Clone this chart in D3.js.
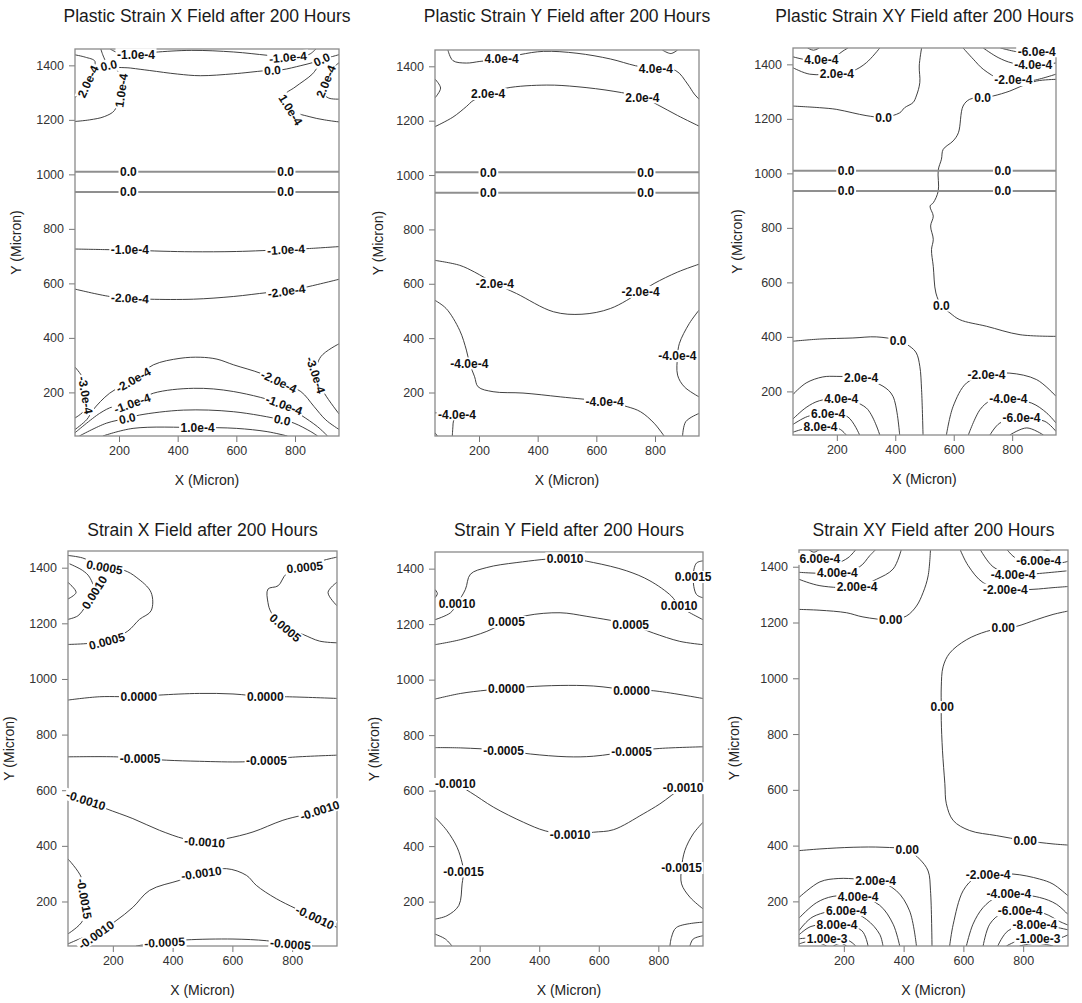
<!DOCTYPE html>
<html>
<head>
<meta charset="utf-8">
<script src="https://cdn.jsdelivr.net/npm/d3@7"></script>
<style>
body { margin: 0; background: #fff; }
svg { display: block; font-family: "Liberation Sans", Arial, sans-serif; }
</style>
</head>
<body>
<svg id="chart" width="1082" height="1003"></svg>
<script>
(function () {
    "use strict";

    // axes, shared by all six fields (micron)
    var xDomain = [50, 950];
    var yDomain = [40, 1460];
    var xTicks = [200, 400, 600, 800];
    var yTicks = [200, 400, 600, 800, 1000, 1200, 1400];
    var xTitle = "X (Micron)";
    var yTitle = "Y (Micron)";

    var titles = [
        "Plastic Strain X Field after 200 Hours",
        "Plastic Strain Y Field after 200 Hours",
        "Plastic Strain XY Field after 200 Hours",
        "Strain X Field after 200 Hours",
        "Strain Y Field after 200 Hours",
        "Strain XY Field after 200 Hours"
    ];

    // the two flat 0.0 contours at the interface (top row)
    var interfaceY = [1010, 935];
    var interfaceLabelX = [232, 768];

    // ---- plastic strain X ----
    var plasticXLines = [
        [[48,1439],[85,1430],[118,1415],[110,1380],[94,1341],[75,1300],[48,1282]],
        [[138,1460],[148,1430],[165,1400],[240,1390],[305,1381],[400,1368],[477,1362],[591,1369],[694,1380],[723,1382],[757,1384],[820,1399],[860,1410],[891,1421],[953,1440]],
        [[170,1460],[195,1447],[258,1441],[320,1448],[448,1455],[591,1449],[705,1437],[776,1430],[848,1440],[871,1460]],
        [[48,1194],[100,1200],[150,1212],[185,1235],[205,1300],[212,1350],[195,1380]],
        [[953,1276],[915,1280],[895,1300],[905,1341],[925,1385],[953,1412]],
        [[953,1192],[900,1200],[848,1212],[785,1237],[765,1290],[800,1320],[860,1369],[880,1400]],
        [[50,726],[150,724],[237,722],[350,718],[450,716],[600,717],[769,724],[850,728],[950,735]],
        [[50,579],[168,552],[237,546],[305,542],[454,542],[591,552],[705,566],[771,572],[837,586],[950,615]],
        [[48,62],[90,100],[111,135],[168,197],[248,246],[317,301],[408,325],[477,329],[534,322],[591,301],[683,270],[745,240],[820,203],[865,148],[905,99],[953,62]],
        [[48,50],[134,123],[180,148],[245,160],[317,197],[454,215],[591,203],[763,154],[820,117],[877,74],[911,40]],
        [[65,40],[157,87],[228,105],[271,117],[420,135],[591,129],[757,99],[797,87],[854,56],[877,40]],
        [[145,40],[248,68],[468,71],[600,68],[705,56],[774,40]],
        [[48,295],[77,252],[86,190],[82,135],[48,105]],
        [[953,380],[888,331],[871,264],[900,197],[953,117]]
    ];
    var plasticXLabels = [
        ["-1.0e-4", 258, 1441, 0], ["-1.0e-4", 776, 1430, -5],
        ["0.0", 165, 1400, -12], ["0.0", 723, 1382, -5], ["0.0", 891, 1421, -25],
        ["2.0e-4", 94, 1341, -65], ["1.0e-4", 208, 1308, -82],
        ["2.0e-4", 905, 1341, -68], ["1.0e-4", 785, 1237, 58],
        ["-1.0e-4", 237, 722, 0], ["-1.0e-4", 769, 724, -3],
        ["-2.0e-4", 237, 546, 3], ["-2.0e-4", 771, 572, -8],
        ["-2.0e-4", 248, 246, -30], ["-2.0e-4", 745, 240, 25],
        ["-1.0e-4", 245, 160, -20], ["-1.0e-4", 763, 154, 20],
        ["0.0", 228, 105, -12], ["0.0", 757, 99, 12],
        ["1.0e-4", 468, 71, 0],
        ["-3.0e-4", 86, 190, 80], ["-3.0e-4", 871, 264, 72]
    ];

    // ---- plastic strain Y ----
    var plasticYLines = [
        [[94,1460],[111,1421],[157,1412],[203,1418],[277,1427],[340,1443],[420,1455],[534,1448],[648,1427],[734,1402],[803,1390],[871,1384],[911,1335],[934,1298],[953,1276]],
        [[825,1460],[854,1447],[877,1460]],
        [[50,1353],[69,1320],[50,1284]],
        [[50,1178],[111,1213],[157,1252],[180,1274],[231,1298],[294,1320],[431,1331],[534,1325],[660,1308],[757,1286],[808,1259],[877,1219],[950,1180]],
        [[50,686],[134,668],[185,643],[254,601],[328,564],[454,497],[551,488],[648,509],[751,570],[797,601],[877,643],[950,672]],
        [[50,539],[88,509],[134,429],[157,356],[168,307],[185,258],[197,221],[248,203],[350,198],[477,184],[628,166],[705,148],[751,129],[797,87],[831,40]],
        [[950,503],[917,454],[883,380],[877,334],[877,264],[900,221],[950,184]],
        [[950,123],[905,93],[894,40]],
        [[50,125],[125,120],[113,95],[111,74],[109,40]],
        [[50,52],[58,40]]
    ];
    var plasticYLabels = [
        ["4.0e-4", 277, 1427, 0], ["4.0e-4", 803, 1390, 0],
        ["2.0e-4", 231, 1298, 0], ["2.0e-4", 757, 1286, 0],
        ["-2.0e-4", 254, 601, 0], ["-2.0e-4", 751, 570, 0],
        ["-4.0e-4", 167, 307, 0], ["-4.0e-4", 628, 166, 0],
        ["-4.0e-4", 876, 334, 0], ["-4.0e-4", 125, 120, 0]
    ];

    // ---- plastic strain XY ----
    var plasticXYLines = [
        [[49,1247],[141,1241],[198,1235],[255,1222],[300,1212],[360,1206],[415,1222],[432,1241],[461,1260],[472,1284],[484,1333],[482,1394],[490,1460]],
        [[950,1345],[884,1339],[827,1318],[792,1302],[735,1284],[699,1278],[655,1272],[632,1247],[616,1149],[598,1119],[564,1088],[558,1052],[547,1012],[547,935],[530,892],[519,880],[530,843],[521,807],[530,758],[524,720],[530,659],[539,561],[558,515],[587,488],[621,463],[712,439],[827,408],[950,402]],
        [[49,384],[141,392],[255,396],[335,400],[410,387],[450,365],[472,341],[484,292],[490,206],[495,40]],
        [[49,188],[95,231],[152,253],[200,255],[283,249],[358,219],[392,182],[415,40]],
        [[49,98],[95,141],[141,166],[215,172],[301,139],[347,40]],
        [[49,78],[100,108],[170,120],[238,106],[278,40]],
        [[49,50],[100,66],[144,70],[209,62],[232,40]],
        [[575,40],[598,145],[644,231],[712,261],[792,267],[884,243],[950,182]],
        [[650,40],[690,133],[725,165],[787,172],[867,157],[918,121],[950,84]],
        [[724,40],[758,84],[832,102],[912,90],[950,53]],
        [[792,40],[850,66],[907,40]],
        [[49,1428],[90,1418],[147,1417],[192,1428],[221,1449],[238,1460]],
        [[100,1460],[120,1452],[140,1460]],
        [[49,1388],[107,1364],[200,1367],[255,1376],[301,1406],[347,1460]],
        [[632,1460],[667,1419],[701,1382],[760,1345],[804,1342],[861,1339],[950,1364]],
        [[701,1460],[752,1425],[800,1405],[872,1398],[950,1405]],
        [[760,1460],[790,1452],[820,1446],[884,1448],[950,1450]]
    ];
    var plasticXYLabels = [
        ["0.0", 360, 1206, 0], ["0.0", 699, 1278, 0], ["0.0", 558, 515, 0], ["0.0", 410, 387, 0],
        ["2.0e-4", 283, 249, 0], ["4.0e-4", 215, 172, 0], ["6.0e-4", 170, 120, 0], ["8.0e-4", 144, 70, 0],
        ["-2.0e-4", 712, 261, 0], ["-4.0e-4", 787, 172, 0], ["-6.0e-4", 832, 102, 0],
        ["4.0e-4", 147, 1417, 0], ["2.0e-4", 200, 1367, 0],
        ["-2.0e-4", 804, 1342, 0], ["-4.0e-4", 872, 1398, 0], ["-6.0e-4", 884, 1448, 0]
    ];

    // ---- strain X ----
    var strainXLines = [
        [[49,1444],[99,1435],[172,1402],[239,1390],[278,1366],[328,1311],[328,1245],[289,1214],[250,1172],[180,1136],[110,1127],[49,1124]],
        [[55,1414],[99,1390],[122,1366],[138,1311],[110,1263],[83,1227],[49,1214]],
        [[49,1348],[77,1311],[49,1287]],
        [[950,1438],[900,1425],[842,1402],[781,1378],[753,1335],[719,1323],[719,1275],[730,1239],[777,1184],[836,1160],[892,1136],[950,1130]],
        [[950,1348],[920,1311],[950,1263]],
        [[49,924],[155,936],[287,936],[356,942],[490,948],[602,946],[710,936],[781,936],[950,930]],
        [[49,720],[211,720],[291,714],[379,708],[490,704],[635,702],[714,708],[792,718],[950,726]],
        [[49,602],[110,564],[177,534],[267,498],[356,456],[440,425],[507,414],[580,426],[669,450],[769,492],[892,528],[950,564]],
        [[49,47],[100,70],[144,83],[211,131],[267,179],[323,240],[423,276],[496,302],[580,318],[647,294],[680,258],[747,210],[876,143],[950,107]],
        [[49,354],[94,288],[105,210],[99,131],[49,83]],
        [[278,40],[320,47],[373,55],[446,62],[602,65],[714,59],[794,47],[870,40]]
    ];
    var strainXLabels = [
        ["0.0005", 172, 1402, 10], ["0.0010", 138, 1311, -58], ["0.0005", 180, 1136, -15],
        ["0.0005", 842, 1402, -6], ["0.0005", 777, 1184, 40],
        ["0.0000", 287, 936, 0], ["0.0000", 710, 936, 0],
        ["-0.0005", 291, 714, 0], ["-0.0005", 714, 708, 0],
        ["-0.0010", 110, 564, 18], ["-0.0010", 507, 414, 4], ["-0.0010", 892, 528, -18],
        ["-0.0010", 144, 80, -35], ["-0.0010", 496, 302, -8], ["-0.0010", 876, 143, 25],
        ["-0.0015", 105, 210, 80],
        ["-0.0005", 373, 53, -3], ["-0.0005", 794, 47, 5]
    ];

    // ---- strain Y ----
    var strainYLines = [
        [[50,1216],[102,1241],[124,1274],[152,1325],[169,1380],[224,1404],[325,1422],[487,1437],[582,1422],[694,1392],[772,1356],[844,1301],[870,1265],[906,1241],[950,1216]],
        [[50,1325],[58,1310],[50,1295]],
        [[950,1428],[928,1420],[917,1370],[928,1307],[950,1295]],
        [[50,1126],[135,1144],[224,1174],[290,1208],[359,1231],[470,1241],[560,1228],[707,1198],[783,1168],[872,1138],[950,1126]],
        [[50,930],[135,950],[224,962],[290,967],[359,974],[470,979],[582,977],[710,962],[783,960],[950,932]],
        [[50,755],[135,754],[280,745],[370,732],[493,722],[582,724],[710,742],[805,752],[950,758]],
        [[50,630],[118,624],[169,594],[247,540],[347,486],[420,455],[504,441],[582,450],[649,459],[749,516],[805,552],[883,609],[950,624]],
        [[50,504],[90,456],[124,396],[141,340],[146,309],[141,264],[130,186],[90,149],[50,137]],
        [[950,486],[917,444],[889,384],[878,321],[878,264],[906,216],[950,174]],
        [[50,83],[85,65],[107,40]],
        [[950,126],[861,107],[844,71],[839,40]],
        [[950,77],[917,65],[906,40]]
    ];
    var strainYLabels = [
        ["0.0010", 124, 1275, 0], ["0.0010", 487, 1437, 0], ["0.0010", 870, 1265, 0],
        ["0.0015", 917, 1370, 0],
        ["0.0005", 290, 1208, 0], ["0.0005", 707, 1198, 0],
        ["0.0000", 290, 967, 0], ["0.0000", 710, 962, 0],
        ["-0.0005", 280, 745, 0], ["-0.0005", 710, 742, 0],
        ["-0.0010", 118, 624, 0], ["-0.0010", 504, 441, 0], ["-0.0010", 883, 609, 0],
        ["-0.0015", 146, 309, 0], ["-0.0015", 878, 321, 0]
    ];

    // ---- strain XY ----
    var strainXYLines = [
        [[50,1247],[120,1244],[209,1235],[264,1220],[357,1210],[409,1223],[443,1259],[465,1307],[482,1367],[490,1464]],
        [[950,1241],[900,1229],[844,1210],[777,1186],[733,1180],[677,1168],[610,1138],[554,1090],[532,1041],[526,969],[526,897],[526,848],[530,742],[538,622],[543,550],[566,490],[621,454],[710,436],[807,418],[900,406],[950,402]],
        [[50,382],[120,388],[231,394],[331,394],[412,385],[454,351],[482,309],[490,238],[495,40]],
        [[50,214],[120,270],[181,282],[250,280],[306,276],[376,238],[420,166],[443,40]],
        [[50,140],[108,195],[164,218],[248,218],[320,186],[365,118],[387,40]],
        [[50,95],[97,145],[208,168],[276,135],[320,82],[331,40]],
        [[50,80],[90,110],[177,118],[260,95],[281,40]],
        [[50,66],[100,70],[144,68],[215,60],[240,40]],
        [[50,47],[75,55],[120,50],[142,40]],
        [[165,40],[190,50],[209,40]],
        [[554,40],[566,118],[599,238],[640,285],[683,294],[766,298],[855,280],[900,262],[950,220]],
        [[610,40],[632,118],[666,178],[710,215],[752,226],[855,214],[911,190],[950,153]],
        [[666,40],[688,118],[730,158],[790,168],[872,156],[922,128],[950,115]],
        [[715,40],[750,95],[839,118],[920,105],[950,98]],
        [[744,40],[790,62],[850,68],[920,68],[950,80]],
        [[788,40],[844,50],[900,40]],
        [[50,1412],[120,1428],[175,1414],[214,1432],[242,1464]],
        [[50,1380],[178,1378],[253,1400],[287,1440],[309,1464]],
        [[50,1355],[120,1332],[244,1328],[309,1355],[365,1392],[393,1464]],
        [[80,1464],[100,1452],[120,1464]],
        [[588,1464],[616,1404],[666,1343],[740,1318],[833,1319],[900,1325],[950,1329]],
        [[655,1464],[699,1400],[766,1370],[822,1373],[945,1385]],
        [[744,1464],[777,1430],[852,1420],[933,1415],[950,1420]],
        [[860,1464],[880,1458],[900,1464]]
    ];
    var strainXYLabels = [
        ["0.00", 357, 1210, 0], ["0.00", 733, 1180, 0], ["0.00", 529, 897, 0],
        ["0.00", 807, 418, 0], ["0.00", 412, 385, 0],
        ["2.00e-4", 306, 276, 0], ["4.00e-4", 248, 218, 0], ["6.00e-4", 208, 168, 0],
        ["8.00e-4", 177, 118, 0], ["1.00e-3", 144, 68, 0],
        ["-2.00e-4", 683, 294, 0], ["-4.00e-4", 752, 226, 0], ["-6.00e-4", 790, 168, 0],
        ["-8.00e-4", 839, 118, 0], ["-1.00e-3", 850, 68, 0],
        ["6.00e-4", 120, 1428, 0], ["4.00e-4", 178, 1378, 0], ["2.00e-4", 244, 1328, 0],
        ["-2.00e-4", 740, 1318, 0], ["-4.00e-4", 766, 1370, 0], ["-6.00e-4", 852, 1420, 0]
    ];

    var panels = [
        { l: 75,  t: 49,  r: 339,  b: 436, titleY: 22,  yt: 21,  lines: plasticXLines,  labels: plasticXLabels,  iface: true },
        { l: 435, t: 50,  r: 699,  b: 436, titleY: 22,  yt: 383, lines: plasticYLines,  labels: plasticYLabels,  iface: true },
        { l: 793, t: 48,  r: 1056, b: 435, titleY: 22,  yt: 742, lines: plasticXYLines, labels: plasticXYLabels, iface: true },
        { l: 68,  t: 551, r: 337,  b: 946, titleY: 536, yt: 14,  lines: strainXLines,   labels: strainXLabels,   iface: false },
        { l: 435, t: 552, r: 703,  b: 946, titleY: 536, yt: 379, lines: strainYLines,   labels: strainYLabels,   iface: false },
        { l: 799, t: 550, r: 1068, b: 946, titleY: 536, yt: 739, lines: strainXYLines,  labels: strainXYLabels,  iface: false }
    ];

    var svg = d3.select("#chart");
    var defs = svg.append("defs");

    panels.forEach(function (p, i) {
        var x = d3.scaleLinear().domain(xDomain).range([p.l, p.r]);
        var y = d3.scaleLinear().domain(yDomain).range([p.b, p.t]);
        var g = svg.append("g");

        defs.append("clipPath").attr("id", "clip" + i)
            .append("rect")
            .attr("x", p.l).attr("y", p.t)
            .attr("width", p.r - p.l).attr("height", p.b - p.t);

        // title
        g.append("text")
            .attr("x", (p.l + p.r) / 2).attr("y", p.titleY)
            .attr("text-anchor", "middle")
            .style("font-size", "17.5px")
            .attr("fill", "#1a1a1a")
            .text(titles[i]);

        // axes
        var ax = g.append("g").attr("transform", "translate(0," + p.b + ")")
            .call(d3.axisBottom(x).tickValues(xTicks).tickFormat(d3.format("d"))
                .tickSize(6).tickPadding(4).tickSizeOuter(0));
        var ay = g.append("g").attr("transform", "translate(" + p.l + ",0)")
            .call(d3.axisLeft(y).tickValues(yTicks).tickFormat(d3.format("d"))
                .tickSize(6).tickPadding(5).tickSizeOuter(0));
        [ax, ay].forEach(function (a) {
            a.select(".domain").remove();
            a.selectAll("line").attr("stroke", "#777");
            a.selectAll("text").attr("fill", "#333")
                .style("font-size", "12.5px")
                .style("font-family", "'Liberation Sans', Arial, sans-serif");
        });

        g.append("text")
            .attr("x", (p.l + p.r) / 2).attr("y", p.b + 49)
            .attr("text-anchor", "middle")
            .style("font-size", "14px").attr("fill", "#222")
            .text(xTitle);
        g.append("text")
            .attr("transform", "translate(" + p.yt + "," + ((p.t + p.b) / 2) + ") rotate(-90)")
            .attr("text-anchor", "middle")
            .style("font-size", "14px").attr("fill", "#222")
            .text(yTitle);

        // contour lines
        var plot = g.append("g").attr("clip-path", "url(#clip" + i + ")");
        var line = d3.line()
            .x(function (d) { return x(d[0]); })
            .y(function (d) { return y(d[1]); })
            .curve(d3.curveCatmullRom.alpha(0.5));

        plot.selectAll("path.contour")
            .data(p.lines)
            .enter()
            .append("path")
            .attr("class", "contour")
            .attr("d", line)
            .attr("fill", "none")
            .attr("stroke", "#2b2b2b")
            .attr("stroke-width", 0.9);

        var labels = p.labels.slice();
        if (p.iface) {
            plot.selectAll("line.iface")
                .data(interfaceY)
                .enter()
                .append("line")
                .attr("class", "iface")
                .attr("x1", x(xDomain[0])).attr("x2", x(xDomain[1]))
                .attr("y1", function (d) { return y(d); })
                .attr("y2", function (d) { return y(d); })
                .attr("stroke", "#8f8f8f")
                .attr("stroke-width", 2);
            interfaceY.forEach(function (yy) {
                interfaceLabelX.forEach(function (xx) { labels.push(["0.0", xx, yy, 0]); });
            });
        }

        // frame
        g.append("rect")
            .attr("x", p.l).attr("y", p.t)
            .attr("width", p.r - p.l).attr("height", p.b - p.t)
            .attr("fill", "none").attr("stroke", "#8a8a8a").attr("stroke-width", 1.3);

        // contour labels with a white gap behind them
        labels.forEach(function (d) {
            var lg = g.append("g")
                .attr("transform", "translate(" + x(d[1]) + "," + y(d[2]) + ") rotate(" + (d[3] || 0) + ")");
            var r = lg.append("rect").attr("fill", "#fff");
            var t = lg.append("text")
                .attr("text-anchor", "middle")
                .attr("dy", "0.36em")
                .style("font-size", "12px")
                .style("font-weight", "bold")
                .attr("fill", "#111")
                .text(d[0]);
            var w = t.node().getComputedTextLength();
            r.attr("x", -w / 2 - 1.5).attr("y", -6).attr("width", w + 3).attr("height", 12);
        });
    });
})();
</script>
</body>
</html>
